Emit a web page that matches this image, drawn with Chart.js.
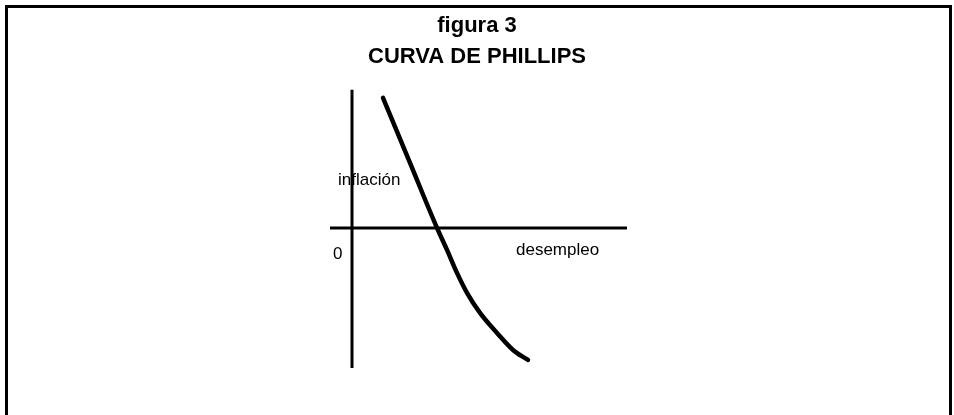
<!DOCTYPE html>
<html lang="es">
<head>
<meta charset="utf-8">
<title>figura 3 - Curva de Phillips</title>
<script src="https://cdn.jsdelivr.net/npm/chart.js@4"></script>
<style>
    body {
        margin: 0;
        background: #fff;
        overflow: hidden;
    }
    #frame {
        position: absolute;
        left: 5px;
        top: 5px;
        width: 941px;
        height: 420px;
        border: 3px solid #000;
        border-bottom: none;
    }
    #myChart {
        position: absolute;
        left: 0;
        top: 0;
    }
</style>
</head>
<body>
<div id="frame"></div>
<canvas id="myChart" width="954" height="415"></canvas>
<script>
// curva de Phillips
const desempleo = [3.1, 5.8, 8.5, 9.5, 10.5, 11.5, 12.8, 14.5, 16.1, 17.6];
const inflacion = [13.0, 6.5, 0.0, -2.2, -4.5, -6.5, -8.5, -10.5, -12.2, -13.2];

// the two axes drawn as lines
const ejeX = [-2.2, 27.5];
const ejeY = [13.8, -14.0];

const titulo = ['figura 3', 'CURVA DE PHILLIPS'];

const etiquetas = [
    { text: 'inflación', x: -1.4, y: 4.8 },
    { text: '0', x: -1.9, y: -2.6 },
    { text: 'desempleo', x: 16.4, y: -2.2 }
];

const labelsPlugin = {
    id: 'labels',
    beforeDatasetsDraw(chart) {
        const ctx = chart.ctx;
        const sx = chart.scales.x;
        const sy = chart.scales.y;
        ctx.save();
        ctx.fillStyle = '#000';
        ctx.font = '17px "Liberation Sans", Arial, sans-serif';
        ctx.textAlign = 'left';
        ctx.textBaseline = 'middle';
        etiquetas.forEach(e => {
            ctx.fillText(e.text, sx.getPixelForValue(e.x), sy.getPixelForValue(e.y));
        });
        ctx.restore();
    }
};

document.addEventListener("DOMContentLoaded", function () {
    const data = {
        datasets: [{
            data: desempleo.map((x, i) => ({ x: x, y: inflacion[i] })),
            borderColor: '#000',
            borderWidth: 4.5,
            borderCapStyle: 'round',
            cubicInterpolationMode: 'monotone',
            pointRadius: 0,
            showLine: true
        }, {
            data: ejeX.map(x => ({ x: x, y: 0 })),
            borderColor: '#000',
            borderWidth: 3,
            pointRadius: 0,
            showLine: true
        }, {
            data: ejeY.map(y => ({ x: 0, y: y })),
            borderColor: '#000',
            borderWidth: 3,
            pointRadius: 0,
            showLine: true
        }]
    };
    const config = {
        type: 'scatter',
        data: data,
        options: {
            responsive: false,
            animation: false,
            layout: {
                padding: 0
            },
            scales: {
                x: {
                    display: false,
                    min: -35.2,
                    max: 60.2
                },
                y: {
                    display: false,
                    min: -18.7,
                    max: 15.45
                }
            },
            plugins: {
                title: {
                    display: true,
                    text: titulo,
                    color: '#000',
                    font: {
                        family: '"Liberation Sans", Arial, sans-serif',
                        size: 22,
                        weight: 'bold',
                        lineHeight: 1.45
                    },
                    padding: {
                        top: 9.5,
                        bottom: 0
                    }
                },
                legend: {
                    display: false
                },
                tooltip: {
                    enabled: false
                }
            }
        },
        plugins: [labelsPlugin]
    };
    var myChart = new Chart(
        document.getElementById('myChart'),
        config
    );
})
</script>
</body>
</html>
